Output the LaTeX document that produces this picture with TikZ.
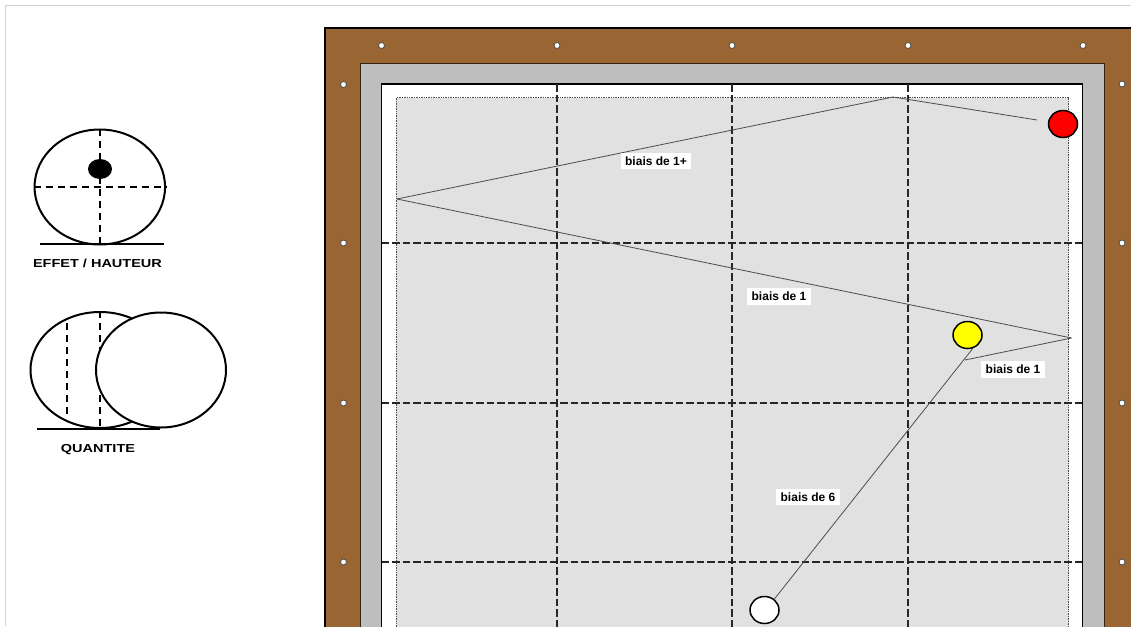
\documentclass[tikz,border=0pt]{standalone}
\usepackage{fontspec}
\usepackage{xcolor}
\usepackage{tikz}
\usetikzlibrary{shapes.geometric,calc}
\setmainfont{Liberation Sans}
\newfontfamily\capfont[FakeStretch=1.25]{Liberation Sans}
\definecolor{woodbrown}{HTML}{996633}
\definecolor{railgray}{HTML}{BEBEBE}
\definecolor{clothgray}{HTML}{E1E1E1}
\definecolor{ballyellow}{RGB}{255,255,0}

\begin{document}
\begin{tikzpicture}[
    x=1pt, y=-1pt,
    hole/.style={circle, draw=black!70, fill=white, line width=0.8pt, minimum size=6pt, inner sep=0pt},
    ball/.style={ellipse, draw, line width=1.5pt, minimum width=29pt, minimum height=27pt, inner sep=0pt},
    bigball/.style={ellipse, draw, fill=white, line width=2pt, inner sep=0pt},
    gridline/.style={black!85, line width=1.2pt, dash pattern=on 7.5pt off 3pt},
    aimline/.style={black, line width=1.8pt, dash pattern=on 7pt off 5pt},
    shot/.style={black!70, line width=0.8pt},
    tag/.style={fill=white, font=\fontsize{12}{13}\selectfont\bfseries, inner xsep=4.5pt, inner ysep=3.8pt},
    caption/.style={font=\capfont\fontsize{11.6}{13}\selectfont\bfseries, inner sep=0pt},
    ground/.style={line width=1.6pt}
]
\path[use as bounding box, clip] (0,0) rectangle (1131,626);
\fill[white] (0,0) rectangle (1131,626);
\draw[black!18, line width=1pt] (1131,5.5) -- (5.5,5.5) -- (5.5,626);

% table
\draw[fill=woodbrown, line width=1.4pt] (325,28) rectangle (1160,660);
\draw[fill=railgray, draw=black!65!woodbrown, line width=1pt] (360.5,63) rectangle (1104,660);
\draw[fill=white, line width=1.6pt] (381.5,84) rectangle (1082.5,660);
\draw[fill=clothgray, draw=black!70, line width=0.7pt, densely dotted] (396,97.5) rectangle (1068.5,660);
\coordinate (railTL) at (381.5,84);
\coordinate (railBR) at (1082.5,660);

\node[hole] (topa) at (381.5,45.5) {};
\node[hole] (topb) at (557,45.5) {};
\node[hole] (topc) at (732,45.5) {};
\node[hole] (topd) at (908,45.5) {};
\node[hole] (tope) at (1083,45.5) {};
\node[hole] (lefta) at (343.5,84.5) {};
\node[hole] (leftb) at (343.5,243) {};
\node[hole] (leftc) at (343.5,403) {};
\node[hole] (leftd) at (343.5,562) {};
\node[hole] (righta) at (1122,84) {};
\node[hole] (rightb) at (1122,243) {};
\node[hole] (rightc) at (1122,403) {};
\node[hole] (rightd) at (1122,562) {};

\draw[gridline] (topb |- railTL) -- (topb |- railBR);
\draw[gridline] (topc |- railTL) -- (topc |- railBR);
\draw[gridline] (topd |- railTL) -- (topd |- railBR);
\draw[gridline] (railTL |- leftb) -- (railBR |- leftb);
\draw[gridline] (railTL |- leftc) -- (railBR |- leftc);
\draw[gridline] (railTL |- leftd) -- (railBR |- leftd);

% balls and shot
\node[ball, fill=white] (whiteball) at (764.5,610) {};
\node[ball, fill=ballyellow] (yellowball) at (967.5,335) {};
\node[ball, fill=red] (redball) at (1063,124) {};
\coordinate (banka) at (965,360);
\coordinate (bankb) at (1071.5,338);
\coordinate (bankc) at (397,199);
\coordinate (bankd) at (893,97);
\coordinate (shotend) at (1037,120);

\draw[shot] (whiteball.48) -- (yellowball.-68);
\draw[shot] (banka) -- (bankb);
\draw[shot] (bankb) -- (bankc);
\draw[shot] (bankc) -- (bankd);
\draw[shot] (bankd) -- (shotend);

\node[tag] (biaisa) at (656,161) {biais de 1+};
\node[tag] (biaisb) at (779,296.5) {biais de 1};
\node[tag] (biaisc) at (1013,369.5) {biais de 1};
\node[tag] (biaisd) at (808,497) {biais de 6};

% effect sketches
\node[bigball, minimum width=130.5pt, minimum height=115pt] (effet) at (99.8,187) {};
\draw[aimline] (effet.north) -- (effet.south);
\draw[aimline] (effet.west) -- (effet.east);
\node[ellipse, fill=black, minimum width=24pt, minimum height=20pt, inner sep=0pt] (spot) at (100,169) {};
\coordinate (grounda) at (40,244);
\coordinate (groundb) at (163.5,244);
\draw[ground] (grounda) -- (groundb);
\node[caption] (effetcap) at (97.5,263) {EFFET / HAUTEUR};

\node[bigball, minimum width=139pt, minimum height=116pt] (quant) at (100,370) {};
\coordinate (quanta) at (67,323);
\coordinate (quantb) at (67,415);
\draw[aimline] (quanta) -- (quantb);
\draw[aimline] (quant.north) -- (quant.south);
\node[bigball, minimum width=130pt, minimum height=115pt] (overlap) at (161,370) {};
\coordinate (groundc) at (37,429);
\coordinate (groundd) at (160,429);
\draw[ground] (groundc) -- (groundd);
\node[caption] (quantcap) at (98,450) {QUANTITE};
\end{tikzpicture}
\end{document}
